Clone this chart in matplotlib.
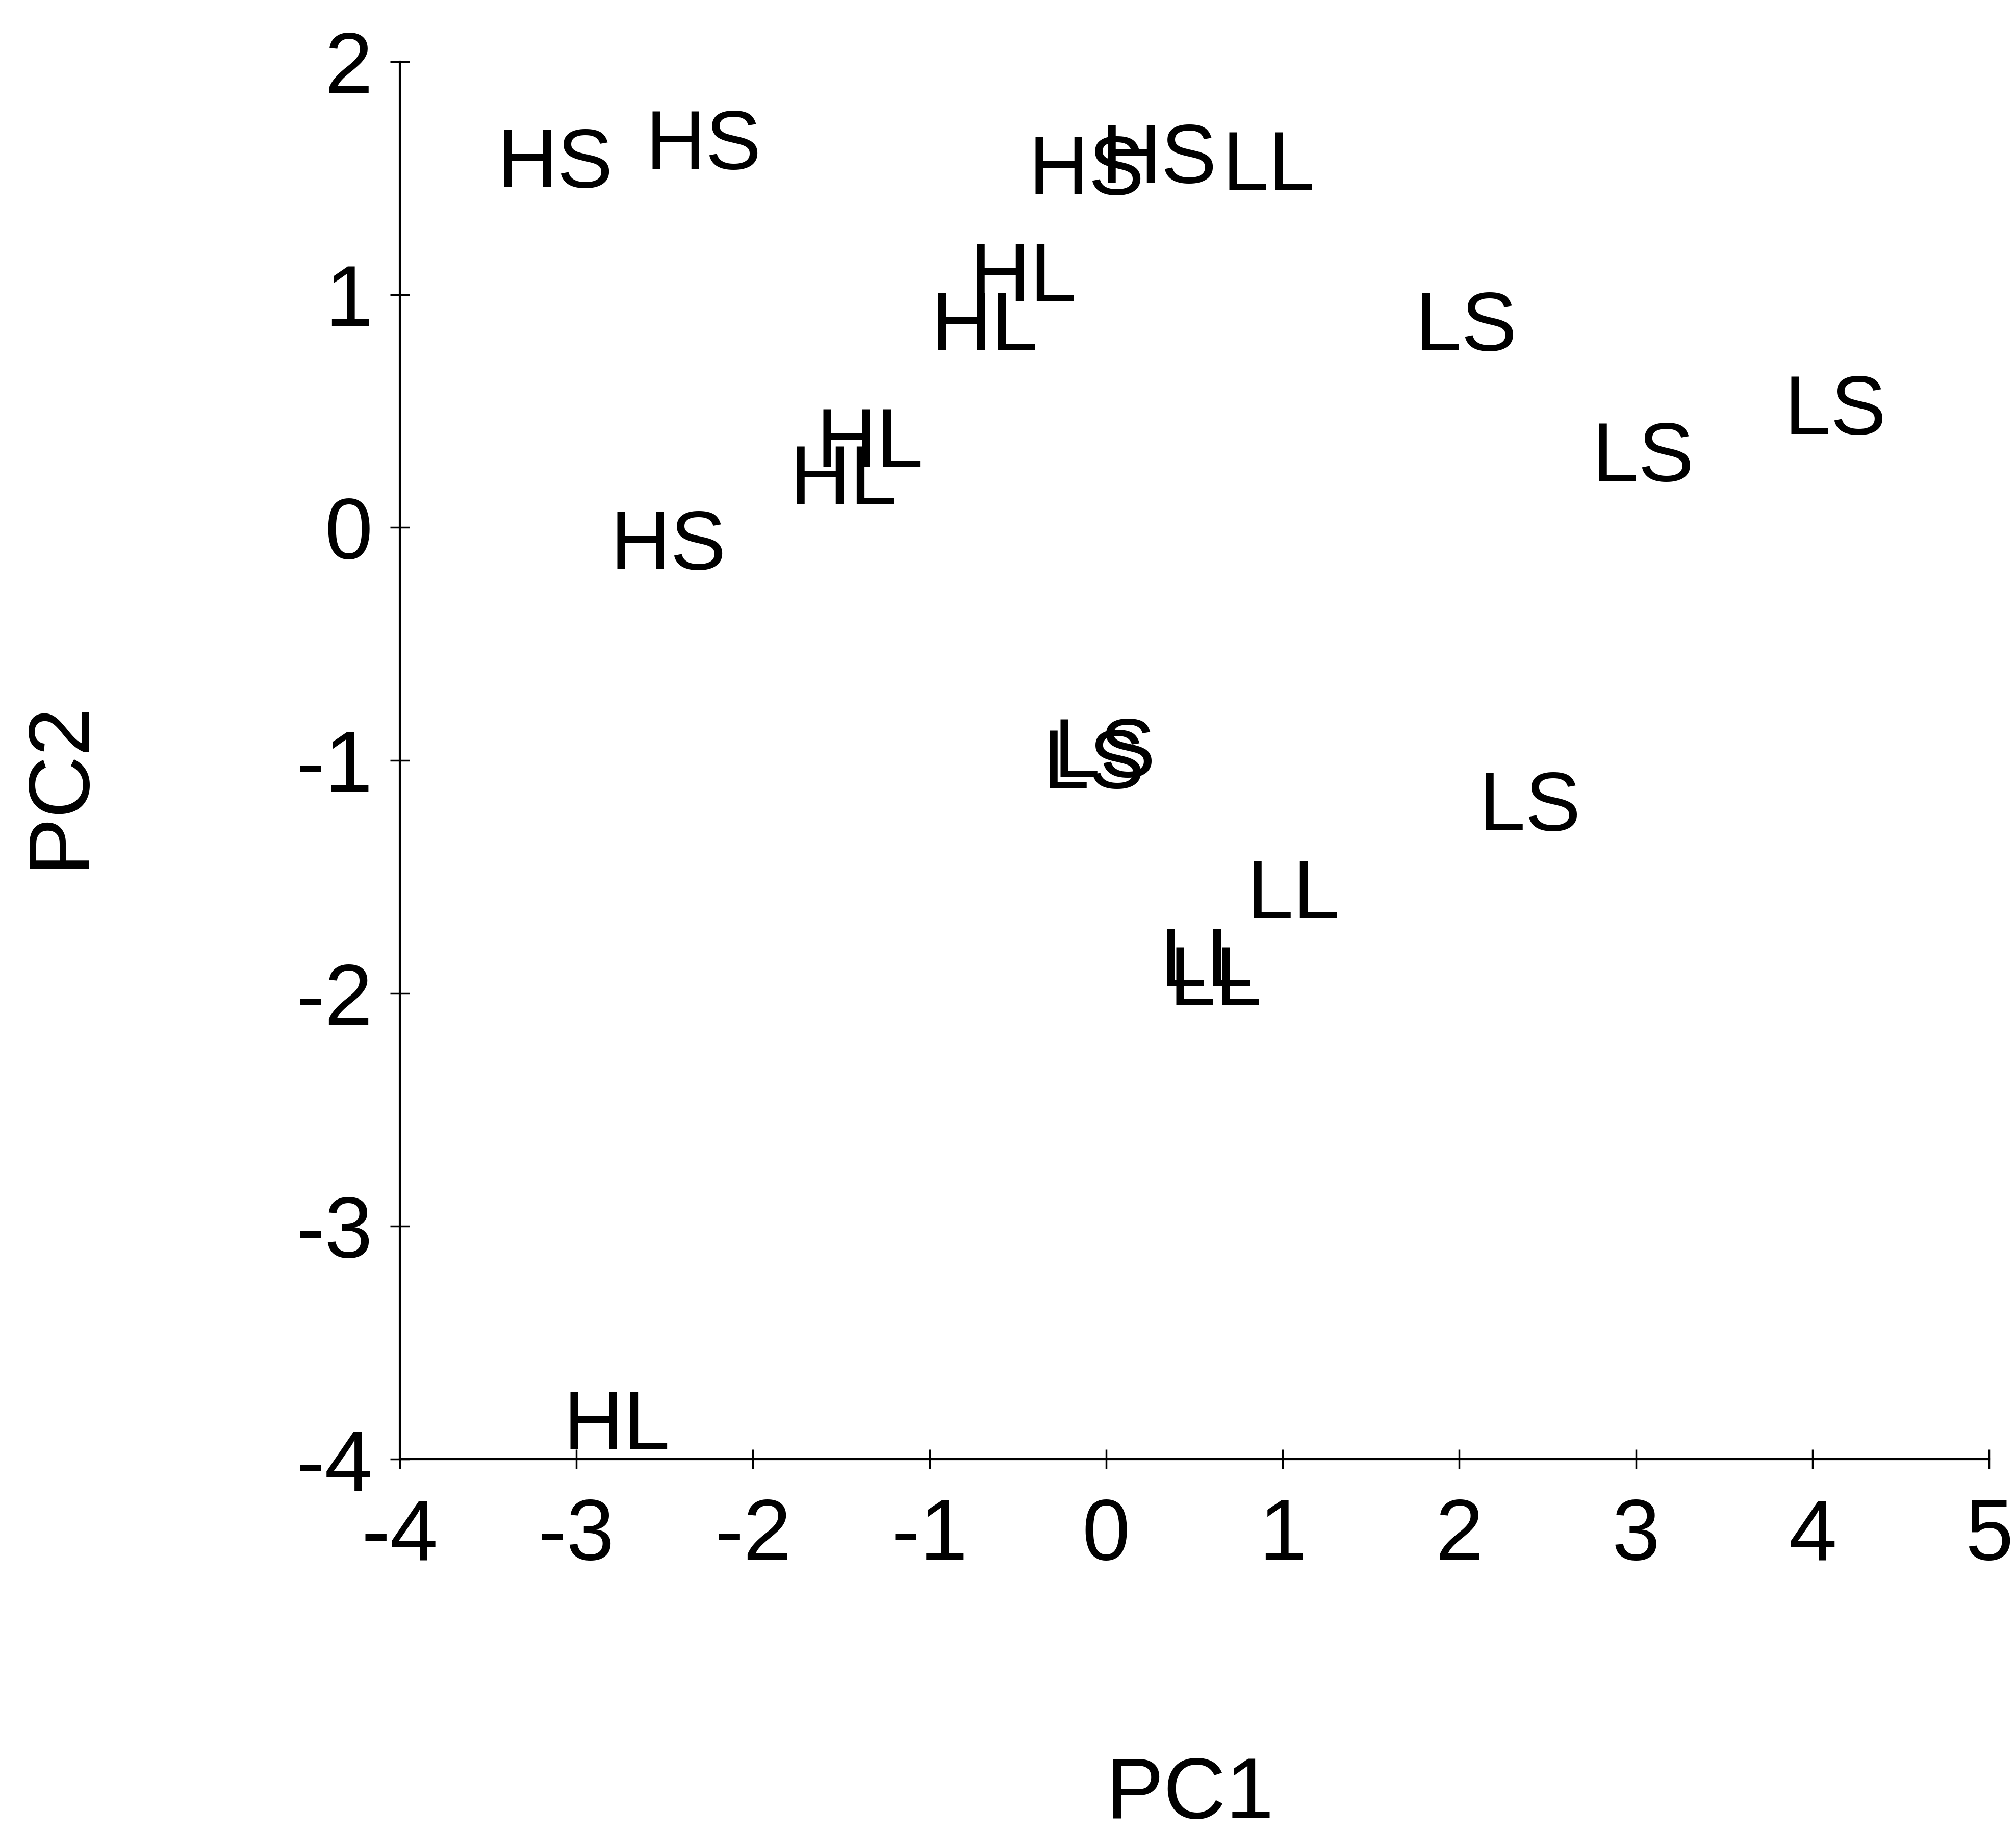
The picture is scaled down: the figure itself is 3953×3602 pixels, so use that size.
import matplotlib
matplotlib.use("Agg")
import matplotlib.pyplot as plt

plt.rcParams['font.family'] = ['Liberation Sans', 'DejaVu Sans']
plt.rcParams['axes.unicode_minus'] = False

# PCA scores: group label and (PC1, PC2) per sample
groups = ["HS", "HS", "HS", "HS", "LL", "HL", "HL", "LS", "LS", "LS",
          "HL", "HL", "HS", "LS", "LS", "LS", "LL", "LL", "LL", "HL"]
pc1 = [-3.12, -2.28, -0.11, 0.30, 0.92, -0.47, -0.69, 2.04, 4.13, 3.04,
       -1.34, -1.49, -2.48, -0.01, -0.07, 2.40, 1.06, 0.57, 0.62, -2.77]
pc2 = [1.59, 1.67, 1.56, 1.61, 1.58, 1.10, 0.89, 0.89, 0.53, 0.33,
       0.39, 0.23, -0.05, -0.94, -0.99, -1.17, -1.55, -1.84, -1.92, -3.83]

x_ticks = [-4, -3, -2, -1, 0, 1, 2, 3, 4, 5]
y_ticks = [-4, -3, -2, -1, 0, 1, 2]

fig = plt.figure(figsize=(39.53, 36.02), dpi=100)
ax = fig.add_axes([0.1983, 0.2057, 0.7883, 0.7607])

for g, x, y in zip(groups, pc1, pc2):
    ax.text(x, y, g, ha="center", va="center_baseline", fontsize=118,
            color="black")

ax.set_xlim(-4, 5)
ax.set_ylim(-4, 2)
ax.set_xticks(x_ticks)
ax.set_yticks(y_ticks)
ax.set_xticklabels([str(v) for v in x_ticks])
ax.set_yticklabels([str(v) for v in y_ticks])

for side in ("top", "right"):
    ax.spines[side].set_visible(False)
for side in ("left", "bottom"):
    ax.spines[side].set_linewidth(3)
    ax.spines[side].set_color("black")

ax.tick_params(axis="x", direction="inout", length=28, width=2.5, pad=40,
               labelsize=122)
ax.tick_params(axis="y", direction="inout", length=28, width=2.5, pad=24,
               labelsize=122)

ax.set_xlabel("PC1", fontsize=122)
ax.set_ylabel("PC2", fontsize=122)
ax.xaxis.set_label_coords(0.497, -0.241)
ax.xaxis.label.set_va("center")
ax.yaxis.set_label_coords(-0.2137, 0.4828)
ax.yaxis.label.set_va("center")

fig.savefig("out.png", dpi=100, facecolor="white")
